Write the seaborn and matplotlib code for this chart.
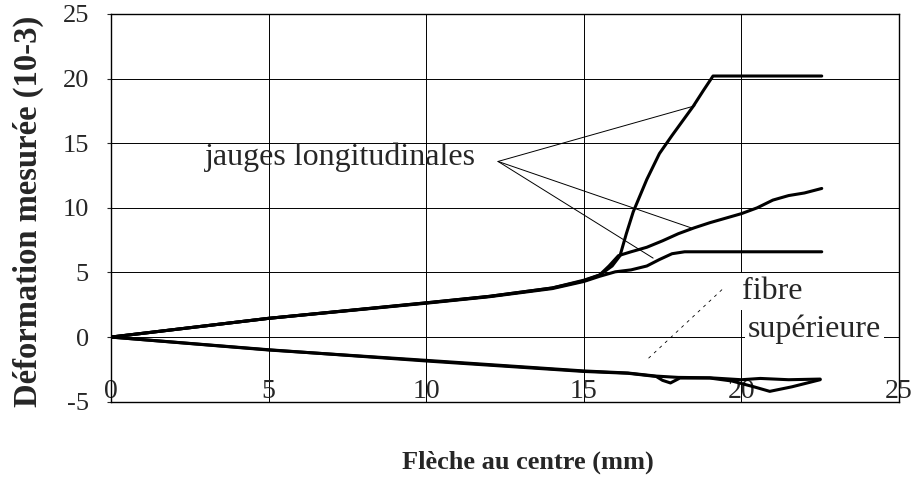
import numpy as np
import pandas as pd
import matplotlib
matplotlib.use("Agg")
import matplotlib.pyplot as plt
import seaborn as sns

# Gauge readings: deflection at mid-span (mm) vs measured strain (10-3)
jauge_a_x = [0, 5, 10, 12, 14, 15, 15.5, 15.9, 16.15, 16.35, 16.57, 17.0, 17.4, 17.8, 18.47, 18.8, 19.1, 22.55]
jauge_a_y = [0, 1.45, 2.65, 3.15, 3.8, 4.35, 4.8, 5.5, 6.3, 8.0, 9.7, 12.2, 14.2, 15.6, 17.85, 19.1, 20.2, 20.2]

jauge_b_x = [0, 5, 10, 12, 14, 15, 15.5, 15.8, 16.1, 16.5, 17.0, 17.5, 18.0, 18.5, 19.0, 19.5, 20.0, 20.5, 21.0, 21.5, 22.0, 22.55]
jauge_b_y = [0, 1.45, 2.65, 3.15, 3.8, 4.4, 4.8, 5.5, 6.3, 6.6, 6.95, 7.45, 8.0, 8.45, 8.85, 9.2, 9.55, 10.0, 10.6, 10.95, 11.15, 11.5]

jauge_c_x = [0, 5, 10, 12, 14, 15, 15.5, 16.0, 16.5, 17.0, 17.4, 17.8, 18.2, 22.55]
jauge_c_y = [0, 1.45, 2.62, 3.12, 3.75, 4.3, 4.7, 5.05, 5.2, 5.5, 6.0, 6.45, 6.6, 6.6]

fibre_1_x = [0, 5, 10, 15, 16.4, 17.3, 17.5, 17.75, 18.05, 19.0, 19.7, 20.4, 20.9, 21.6, 22.5]
fibre_1_y = [0, -0.98, -1.85, -2.66, -2.8, -3.05, -3.35, -3.55, -3.17, -3.17, -3.4, -3.85, -4.2, -3.85, -3.3]

fibre_2_x = [0, 5, 10, 15, 16.4, 17.3, 18.0, 19.0, 20.0, 20.6, 21.5, 22.5]
fibre_2_y = [0, -1.0, -1.8, -2.62, -2.78, -3.02, -3.12, -3.15, -3.3, -3.2, -3.3, -3.25]

x_ticks = [0, 5, 10, 15, 20, 25]
y_ticks = [-5, 0, 5, 10, 15, 20, 25]

series = {
    "jauge A": (jauge_a_x, jauge_a_y),
    "jauge B": (jauge_b_x, jauge_b_y),
    "jauge C": (jauge_c_x, jauge_c_y),
    "fibre 1": (fibre_1_x, fibre_1_y),
    "fibre 2": (fibre_2_x, fibre_2_y),
}
df = pd.concat(
    [pd.DataFrame({"fleche": xs, "deformation": ys, "serie": name})
     for name, (xs, ys) in series.items()],
    ignore_index=True,
)

sns.set_style("white")
plt.rcParams["font.family"] = ["Liberation Serif", "DejaVu Serif"]

fig = plt.figure(figsize=(9.19, 5.03), dpi=100)
ax = fig.add_axes([0.1208, 0.2014, 0.8574, 0.7708])

sns.lineplot(
    data=df, x="fleche", y="deformation", units="serie", estimator=None,
    sort=False, color="black", linewidth=2.2, ax=ax, legend=False,
)

ax.set_xlim(0, 25)
ax.set_ylim(-5, 25)
ax.set_xticks(x_ticks)
ax.set_yticks(y_ticks)
ax.set_xticklabels([str(t) for t in x_ticks])
ax.set_yticklabels([str(t) for t in y_ticks])
ax.grid(True, color="black", linewidth=0.7)
ax.set_axisbelow(True)
for side in ["top", "right", "bottom", "left"]:
    ax.spines[side].set_visible(True)
    ax.spines[side].set_color("black")
    ax.spines[side].set_linewidth(1.0)

ax.tick_params(axis="x", length=0, pad=-16, labelsize=20)
ax.tick_params(axis="y", direction="out", length=3, width=0.8, pad=13, labelsize=19, left=True)

ax.set_xlabel("Flèche au centre (mm)", fontsize=19, fontweight="bold", va="center")
ax.xaxis.set_label_coords(0.529, -0.1556)
ax.set_ylabel("Déformation mesurée (10-3)", fontsize=23.5, fontweight="bold", va="center", ha="center")
ax.yaxis.set_label_coords(-0.1053, 0.4918)

# Leader lines for the longitudinal gauges
origin = (12.28, 13.59)
ax.text(2.98, 13.34, "jauges longitudinales", fontsize=23, va="baseline", ha="left")
for target in [(18.53, 17.9), (18.42, 8.44), (17.2, 6.11)]:
    ax.annotate("", xy=target, xytext=origin,
                arrowprops=dict(arrowstyle="-", color="black", lw=0.7,
                                shrinkA=0, shrinkB=0))

# Upper fibre label with a dashed leader
ax.annotate("", xy=(17.0, -1.76), xytext=(19.38, 3.66),
            arrowprops=dict(arrowstyle="-", color="black", lw=0.6,
                            linestyle=(0, (3, 6)), shrinkA=0, shrinkB=0))
ax.text(20.02, 2.96, "fibre", fontsize=23, va="baseline", ha="left",
        bbox=dict(facecolor="white", edgecolor="none", pad=3), zorder=5)
ax.text(20.2, 0.0, "supérieure", fontsize=23, va="baseline", ha="left",
        bbox=dict(facecolor="white", edgecolor="none", pad=2), zorder=5)

fig.savefig("out.png", dpi=100)
